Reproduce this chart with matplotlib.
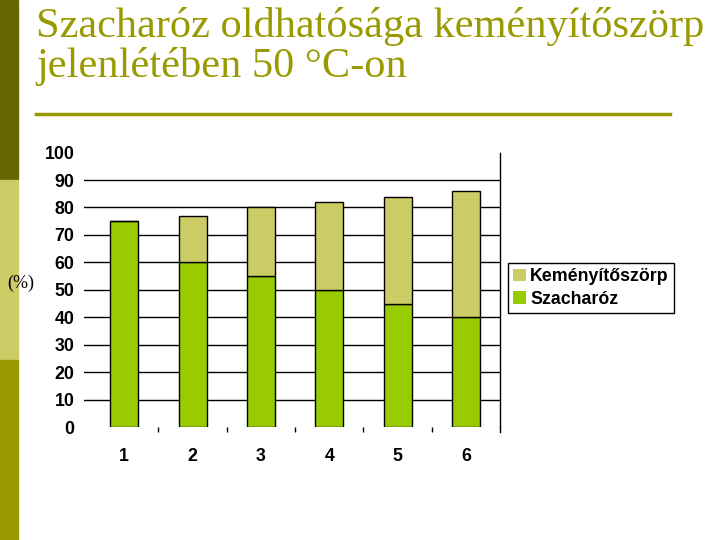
import matplotlib.pyplot as plt
from matplotlib.patches import Rectangle
from matplotlib.lines import Line2D

categories = ["1", "2", "3", "4", "5", "6"]
szacharoz = [75, 60, 55, 50, 45, 40]
kemenyito = [0, 17, 25, 32, 39, 46]
yticks = [0, 10, 20, 30, 40, 50, 60, 70, 80, 90, 100]

green = "#99cc00"
khaki = "#cccc66"
olive = "#999900"

fig = plt.figure(figsize=(7.2, 5.4), dpi=100)
W, H = 720, 540

# slide decoration on the left
fig.patches.append(Rectangle((0, 1 - 180 / H), 18 / W, 180 / H, transform=fig.transFigure, color="#666600"))
fig.patches.append(Rectangle((0, 1 - 360 / H), 18 / W, 180 / H, transform=fig.transFigure, color=khaki))
fig.patches.append(Rectangle((0, 0), 18 / W, 180 / H, transform=fig.transFigure, color=olive))

fig.text(36 / W, 1 - 37 / H, "Szacharóz oldhatósága keményítőszörp",
         family="Liberation Serif", fontsize=30.5, color=olive, ha="left", va="baseline")
fig.text(36 / W, 1 - 77 / H, "jelenlétében 50 °C-on",
         family="Liberation Serif", fontsize=30.5, color=olive, ha="left", va="baseline")
fig.lines.append(Line2D([36 / W, 670 / W], [1 - 114 / H, 1 - 114 / H], transform=fig.transFigure,
                        color=olive, lw=2.5))

ax = fig.add_axes([84 / W, 1 - 427 / H, (500 - 84) / W, (427 - 152.6) / H])
x = list(range(len(categories)))
for y in yticks[1:-1]:
    ax.axhline(y, color="black", lw=1, zorder=0)
ax.bar(x, szacharoz, width=0.41, color=green, edgecolor="black", lw=1, zorder=2, label="Szacharóz")
ax.bar(x, kemenyito, width=0.41, bottom=szacharoz, color=khaki, edgecolor="black", lw=1, zorder=2,
       label="Keményítőszörp")

ax.set_xlim(-0.59, 5.5)
ax.set_ylim(0, 100)
ax.set_yticks(yticks)
ax.set_xticks(x)
ax.set_xticklabels(categories)
ax.set_xticks([0.5, 1.5, 2.5, 3.5, 4.5], minor=True)
for lab in ax.get_xticklabels() + ax.get_yticklabels():
    lab.set_fontweight("bold")
    lab.set_family("Liberation Sans")
    lab.set_fontsize(12.8)
ax.tick_params(axis="y", length=0, pad=7)
ax.tick_params(axis="x", which="major", length=0, pad=15)
ax.tick_params(axis="x", which="minor", length=3.6, width=1, direction="out")
for s in ["left", "top", "bottom"]:
    ax.spines[s].set_visible(False)
ax.spines["right"].set_linewidth(1)
ax.plot([5.5, 5.5], [0, -1.8], color="black", lw=1, clip_on=False)

fig.text(21 / W, 1 - 283 / H, "(%)", family="Liberation Serif", fontsize=13, ha="center", va="center")

h, l = ax.get_legend_handles_labels()
leg = fig.legend(h[::-1], l[::-1], loc="upper left", bbox_to_anchor=(508 / W, 1 - 263 / H),
                 prop={"family": "Liberation Sans", "weight": "bold", "size": 12.8},
                 fancybox=False, edgecolor="black", framealpha=1, handlelength=0.7,
                 handleheight=0.7, handletextpad=0.25, borderpad=0.3, labelspacing=0.3,
                 borderaxespad=0)
leg.get_frame().set_linewidth(1)
for p in leg.get_patches():
    p.set_edgecolor("none")

fig.savefig("out.png", dpi=100)
